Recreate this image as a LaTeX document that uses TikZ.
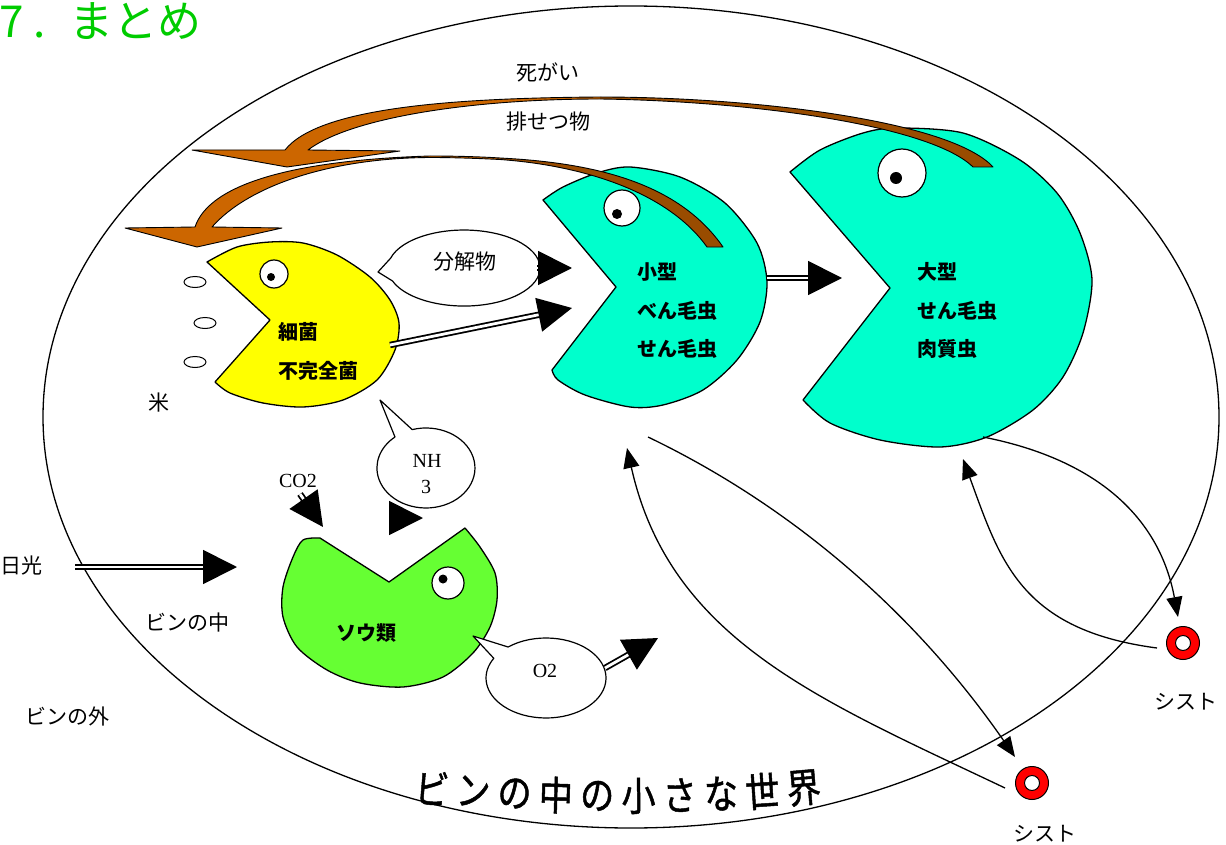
\documentclass[tikz,border=0pt]{standalone}
\usepackage{fontspec}
\setmainfont{Noto Sans CJK JP}
\newfontfamily\chemfont{Liberation Serif}
\newfontfamily\bannerfont[FakeStretch=0.85,FakeBold=1.2]{Noto Sans CJK JP}
\usetikzlibrary{arrows.meta}

\definecolor{titlegreen}{RGB}{0,204,0}
\definecolor{pacyellow}{RGB}{255,255,0}
\definecolor{prototeal}{RGB}{0,255,204}
\definecolor{algagreen}{RGB}{102,255,51}
\definecolor{wastebrown}{RGB}{204,102,0}
\definecolor{wastedark}{RGB}{153,76,0}
\definecolor{cystred}{RGB}{255,0,0}

\begin{document}
\begin{tikzpicture}[x=1pt,y=-1pt,
  outline/.style={draw=black,line width=1.3pt,line join=round},
  txt/.style={font=\fontsize{21}{24}\selectfont,inner sep=0pt},
  boldtxt/.style={font=\bfseries\fontsize{20}{24}\selectfont,inner sep=0pt,anchor=west},
  chem/.style={font=\chemfont\fontsize{20}{22}\selectfont,inner sep=0pt},
  bubble/.style={draw=black,line width=1.2pt,fill=white,line join=round},
  flow/.style={double=white,double distance=2.8pt,line width=1.8pt,-{Triangle[length=34pt,width=34pt]}},
  cycleline/.style={line width=1.3pt,-{Triangle[length=20pt,width=16pt]}},
  eyeball/.style={draw=black,line width=1.2pt,fill=white},
  grain/.style={draw=black,line width=1pt,fill=white},
  waste/.style={draw=black,line width=0.9pt,line join=round},
  cystring/.style={circle,draw=black,line width=1pt,fill=cystred,minimum size=33pt,inner sep=0pt},
  cysthole/.style={circle,draw=black,line width=1pt,fill=white,minimum size=15pt,inner sep=0pt},
]
\useasboundingbox (0,0) rectangle (1226,845);

% the bottle
\draw[line width=1.3pt] (631,417) ellipse [x radius=588, y radius=411];

% heading
\node[anchor=base west,inner sep=0pt,text=titlegreen,font=\fontsize{44}{50}\selectfont]
  (heading) at (-1,38) {7\kern10pt.\kern24pt まとめ};

% bacteria / fungi (yellow)
\draw[outline,fill=pacyellow] (270,320) -- plot[smooth] coordinates {(207,262) (237,247) (270,242) (303,243) (337,255) (370,277) (390,300) (399,323) (395,350) (377,380) (343,400) (303,407) (263,403) (230,393) (215,382)} -- cycle;
\draw[eyeball] (274,274) circle[radius=14];
\fill (271,277) circle[radius=4];
\draw[grain] (195,282) ellipse [x radius=11, y radius=5.5];
\draw[grain] (205,323) ellipse [x radius=11, y radius=5.5];
\draw[grain] (195,362) ellipse [x radius=11, y radius=5.5];

% small protozoa (teal)
\draw[outline,fill=prototeal] (616,287) -- plot[smooth] coordinates {(543,200) (563,187) (597,173) (630,167) (680,177) (725,203) (757,243) (767,282) (760,322) (737,360) (703,390) (663,405) (630,407) (585,395) (558,380) (552,370)} -- cycle;
\draw[eyeball] (622,208) circle[radius=18];
\fill (617,214) circle[radius=5];

% large protozoa (teal)
\draw[outline,fill=prototeal] (890,288) -- plot[smooth] coordinates {(790,172) (820,150) (863,133) (897,128) (963,133) (1020,160) (1057,193) (1080,233) (1092,280) (1083,333) (1063,377) (1033,410) (987,437) (940,447) (880,440) (830,423) (803,400)} -- cycle;
\draw[eyeball] (902,173) circle[radius=24];
\fill (896,178) circle[radius=6];

% algae (green)
\draw[outline,fill=algagreen] (389,582) -- plot[smooth] coordinates {(465,528) (480,547) (495,573) (497,600) (490,627) (473,653) (443,677) (403,687) (360,683) (327,670) (297,647) (283,617) (283,587) (293,557) (303,540) (320,538)} -- cycle;
\draw[eyeball] (448,583) circle[radius=16];
\fill (443,579) circle[radius=4.5];

% labels inside the organisms
\node[boldtxt] (bac1) at (278,332) {細菌};
\node[boldtxt] (bac2) at (278,371) {不完全菌};
\node[boldtxt] (small1) at (637,272) {小型};
\node[boldtxt] (small2) at (637,311) {べん毛虫};
\node[boldtxt] (small3) at (637,349) {せん毛虫};
\node[boldtxt] (large1) at (917,272) {大型};
\node[boldtxt] (large2) at (917,311) {せん毛虫};
\node[boldtxt] (large3) at (917,349) {肉質虫};
\node[boldtxt,anchor=center] (alga) at (366,633) {ソウ類};

% curved waste arrow from the large protozoa
\fill[wastebrown] (285,150) .. controls (318,108) and (450,98) .. (600,97) -- (600,99) .. controls (470,99) and (350,118) .. (308,150) -- (400,151) -- (287,167) -- (192,150) -- cycle;
\fill[wastedark] (600,97) .. controls (750,97) and (950,120) .. (993,167) -- (973,167) .. controls (930,125) and (750,101) .. (600,99) -- cycle;
\draw[waste] (285,150) .. controls (318,108) and (450,98) .. (600,97) .. controls (750,97) and (950,120) .. (993,167) -- (973,167) .. controls (930,125) and (750,101) .. (600,99) .. controls (470,99) and (350,118) .. (308,150) -- (400,151) -- (287,167) -- (192,150) -- cycle;

% curved waste arrow from the small protozoa
\fill[wastebrown] (195,227) .. controls (210,182) and (300,160) .. (430,156) .. controls (460,156) and (485,157) .. (500,158) -- (500,159.5) .. controls (480,158.5) and (455,157.5) .. (430,157.5) .. controls (330,158) and (248,186) .. (212,227) -- (282,228) -- (197,247) -- (125,228) -- cycle;
\fill[wastedark] (500,158) .. controls (600,163) and (680,185) .. (723,247) -- (707,247) .. controls (670,195) and (590,166) .. (500,159.5) -- cycle;
\draw[waste] (195,227) .. controls (210,182) and (300,160) .. (430,156) .. controls (460,156) and (485,157) .. (500,158) .. controls (600,163) and (680,185) .. (723,247) -- (707,247) .. controls (670,195) and (590,166) .. (500,159.5) .. controls (480,158.5) and (455,157.5) .. (430,157.5) .. controls (330,158) and (248,186) .. (212,227) -- (282,228) -- (197,247) -- (125,228) -- cycle;

% speech bubbles
\path[bubble] (378,272) -- (390.6,258.2) arc[start angle=195,end angle=520,x radius=76,y radius=38] -- cycle;
\path[bubble] (380,400) -- (412.2,429.6) arc[start angle=-106.3,end angle=230.8,x radius=49,y radius=40] -- cycle;
\path[bubble] (473,636) -- (508.1,647) arc[start angle=-129.2,end angle=209.5,x radius=60,y radius=40] -- cycle;

% plain labels
\node[txt] (dead) at (548,72) {死がい};
\node[txt] (excreta) at (548,122) {排せつ物};
\node[txt] (decomp) at (465,262) {分解物};
\node[txt] (rice) at (159,403) {米};
\node[txt] (sunlabel) at (22,566) {日光};
\node[txt] (inside) at (187,623) {ビンの中};
\node[txt] (outside) at (67,716) {ビンの外};
\node[chem] (co2) at (298,481) {CO2};
\node[chem] (nh) at (427,461) {NH};
\node[chem] (nhthree) at (426,487) {3};
\node[chem] (otwo) at (545,671) {O2};

% connector end points
\coordinate (sun) at (75,567);
\coordinate (sunin) at (237,567);
\coordinate (bacout) at (390,345);
\coordinate (smallin) at (572,308);
\coordinate (decompout) at (537,268);
\coordinate (decompin) at (572,268);
\coordinate (smallout) at (767,278);
\coordinate (largein) at (842,278);
\coordinate (co2from) at (300,494);
\coordinate (co2to) at (323,527);
\coordinate (nhfrom) at (390,518);
\coordinate (nhto) at (423,518);
\coordinate (o2from) at (605,668);
\coordinate (o2to) at (658,638);

% double flow arrows
\draw[flow] (sun) -- (sunin);
\draw[flow] (bacout) -- (smallin);
\draw[flow] (decompout) -- (decompin);
\draw[flow] (smallout) -- (largein);
\draw[flow] (co2from) -- (co2to);
\draw[flow] (nhfrom) -- (nhto);
\draw[flow] (o2from) -- (o2to);

% cysts
\node[cystring] (cystA) at (1183,643) {};
\node[cysthole] (cystAhole) at (cystA) {};
\node[cystring] (cystB) at (1032,783) {};
\node[cysthole] (cystBhole) at (cystB) {};
\node[txt] (cystAlabel) at (1186,702) {シスト};
\node[txt] (cystBlabel) at (1045,834) {シスト};

\coordinate (smallfoot) at (648,437);
\coordinate (smallback) at (627,448);
\coordinate (largefoot) at (983,437);
\coordinate (largeback) at (963,459);
\coordinate (cystBtop) at (1015,757);
\coordinate (cystBleft) at (1005,788);
\coordinate (cystAtop) at (1178,617);
\coordinate (cystAleft) at (1157,648);

% encystment and excystment
\draw[cycleline] (smallfoot) .. controls (800,510) and (920,620) .. (cystBtop);
\draw[cycleline] (cystBleft) .. controls (820,700) and (670,640) .. (smallback);
\draw[cycleline] (largefoot) .. controls (1100,460) and (1160,520) .. (cystAtop);
\draw[cycleline] (cystAleft) .. controls (1020,630) and (1000,560) .. (largeback);

% caption along the bottom of the bottle
\foreach \ch [count=\i from 0] in {ビ,ン,の,中,の,小,さ,な,世,界} {
  \pgfmathsetmacro\xx{432+41.3*\i}
  \pgfmathsetmacro\uu{(\xx-618)/186}
  \pgfmathsetmacro\yy{788+8*(1-\uu*\uu)}
  \pgfmathsetmacro\rr{atan((\xx-618)/2162.25)}
  \node[inner sep=0pt,rotate=\rr,font=\bannerfont\fontsize{40}{44}\selectfont] (banner\i) at (\xx,\yy) {\ch};
}
\end{tikzpicture}
\end{document}
